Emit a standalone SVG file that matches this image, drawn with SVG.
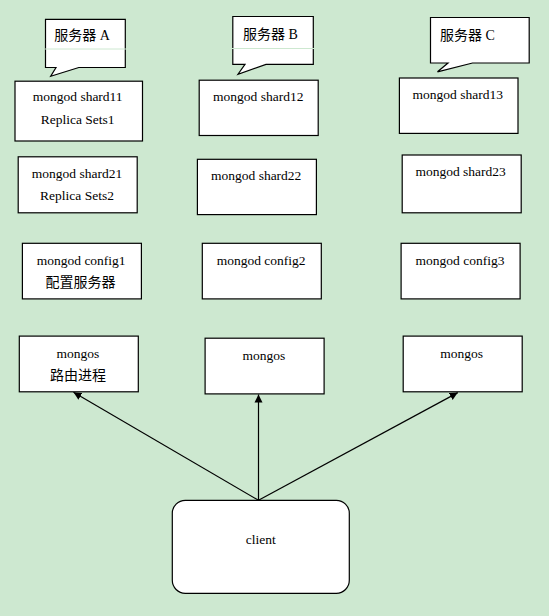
<svg xmlns="http://www.w3.org/2000/svg" width="549" height="616" viewBox="0 0 549 616">
<style>
.box{fill:#fff;stroke:#000;stroke-width:1.2}
.t{font-family:"Liberation Serif","Times New Roman",serif;font-size:13.5px;fill:#000;text-anchor:middle}
.c{font-family:"Liberation Serif","Noto Sans CJK SC",serif;font-size:14px;fill:#000}
.cm{font-family:"Noto Sans CJK SC","Liberation Serif",sans-serif;font-size:14px;fill:#000;text-anchor:middle}
.conn{stroke:#000;stroke-width:1.2;fill:none;marker-end:url(#ah)}
</style>
<defs>
<marker id="ah" markerWidth="9" markerHeight="9" refX="8" refY="4.5" orient="auto" markerUnits="userSpaceOnUse">
<path d="M0,0.5 L8,4.5 L0,8.5 Z" fill="#000"/>
</marker>
</defs>
<rect x="0" y="0" width="549" height="616" fill="#cde8d0"/>

<g id="calloutA">
<path class="box" d="M45.5,19.3 H125.3 V67.5 H78.8 L50.7,76.3 L56,67.5 H45.5 Z"/>
<line x1="45" y1="49" x2="126" y2="49" stroke="#cde8d0" stroke-width="1"/>
<text class="c" x="54.3" y="40.3">服务器 A</text>
</g>
<g id="calloutB">
<path class="box" d="M232.8,16.5 H313.3 V64.4 H266 L238,74.2 L245,64.4 H232.8 Z"/>
<line x1="232" y1="48.5" x2="314" y2="48.5" stroke="#cde8d0" stroke-width="1"/>
<text class="c" x="243" y="38.5">服务器 B</text>
</g>
<g id="calloutC">
<path class="box" d="M430.5,17.5 H529.2 V63 H472.5 L437.5,71.8 L448,63 H430.5 Z"/>
<text class="c" x="440" y="39.5">服务器 C</text>
</g>

<g id="shard11">
<rect class="box" x="15" y="81.2" width="127.5" height="59.8"/>
<text class="t" x="77.7" y="101">mongod shard11</text>
<text class="t" x="77.7" y="123.5">Replica Sets1</text>
</g>
<g id="shard12">
<rect class="box" x="199.2" y="80.2" width="119" height="55.3"/>
<text class="t" x="258.3" y="100.5">mongod shard12</text>
</g>
<g id="shard13">
<rect class="box" x="399.4" y="78" width="118.6" height="55.4"/>
<text class="t" x="457.8" y="98.5">mongod shard13</text>
</g>

<g id="shard21">
<rect class="box" x="18.2" y="156.8" width="119" height="56"/>
<text class="t" x="77" y="178">mongod shard21</text>
<text class="t" x="77" y="199.5">Replica Sets2</text>
</g>
<g id="shard22">
<rect class="box" x="197.4" y="159.3" width="119" height="55.3"/>
<text class="t" x="256.2" y="180">mongod shard22</text>
</g>
<g id="shard23">
<rect class="box" x="402.2" y="155" width="119" height="57.8"/>
<text class="t" x="460.6" y="175.5">mongod shard23</text>
</g>

<g id="config1">
<rect class="box" x="22.4" y="243.3" width="119" height="55.6"/>
<text class="t" x="81.2" y="264.5">mongod config1</text>
<text class="cm" x="80.5" y="286.5">配置服务器</text>
</g>
<g id="config2">
<rect class="box" x="202.3" y="243.3" width="119" height="55.6"/>
<text class="t" x="261.1" y="264.5">mongod config2</text>
</g>
<g id="config3">
<rect class="box" x="401.1" y="243.3" width="119" height="55.6"/>
<text class="t" x="460" y="264.5">mongod config3</text>
</g>

<g id="mongosA">
<rect class="box" x="19.3" y="336.1" width="119" height="55.7"/>
<text class="t" x="78" y="357.5">mongos</text>
<text class="cm" x="78" y="380">路由进程</text>
</g>
<g id="mongosB">
<rect class="box" x="205.1" y="338.2" width="119" height="55.7"/>
<text class="t" x="264" y="359.5">mongos</text>
</g>
<g id="mongosC">
<rect class="box" x="403.2" y="336.1" width="119" height="55.7"/>
<text class="t" x="461.7" y="357.5">mongos</text>
</g>

<g id="client">
<rect class="box" x="172.3" y="500.3" width="177" height="93" rx="13" ry="13"/>
<text class="t" x="260.7" y="544.3">client</text>
</g>

<g id="connectors">
<line class="conn" x1="258.5" y1="500.3" x2="73.5" y2="392.3"/>
<line class="conn" x1="258.5" y1="500.3" x2="258.5" y2="394.5"/>
<line class="conn" x1="258.5" y1="500.3" x2="457.8" y2="392.6"/>
</g>
</svg>
